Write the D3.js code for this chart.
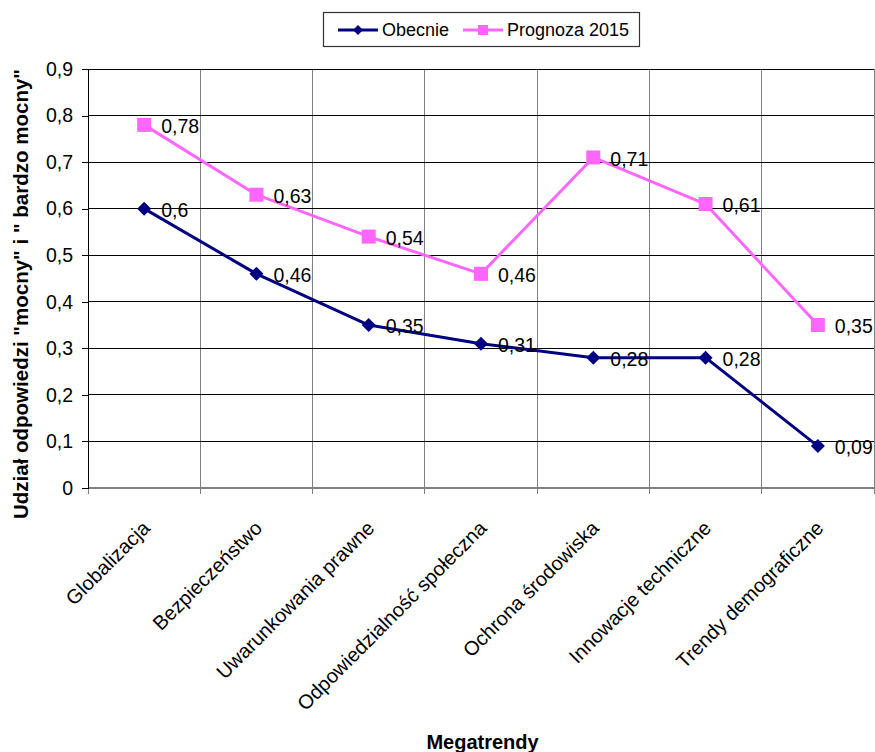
<!DOCTYPE html>
<html>
<head>
<meta charset="utf-8">
<script src="https://cdn.jsdelivr.net/npm/d3@7"></script>
<style>
  html, body { margin: 0; padding: 0; background: #fff; }
  svg { display: block; font-family: Arial, "Liberation Sans", sans-serif; }
</style>
</head>
<body>
<svg id="chart" width="875" height="752"></svg>
<script>
// Megatrend categories and shares of "strong" / "very strong" answers
const categories = [
  "Globalizacja",
  "Bezpieczeństwo",
  "Uwarunkowania prawne",
  "Odpowiedzialność społeczna",
  "Ochrona środowiska",
  "Innowacje techniczne",
  "Trendy demograficzne"
];
const obecnie = [0.6, 0.46, 0.35, 0.31, 0.28, 0.28, 0.09];
const prognoza2015 = [0.78, 0.63, 0.54, 0.46, 0.71, 0.61, 0.35];
const yTicks = [0, 0.1, 0.2, 0.3, 0.4, 0.5, 0.6, 0.7, 0.8, 0.9];
const seriesNames = ["Obecnie", "Prognoza 2015"];

const svg = d3.select("#chart");
const margin = { left: 88, right: 1, top: 69, bottom: 264 };
const W = 875, H = 752;

const x = d3.scaleBand().domain(categories).range([margin.left, W - margin.right]).padding(0);
const y = d3.scaleLinear().domain([0, 0.9]).range([H - margin.bottom, margin.top]);
const fmt = v => String(v).replace(".", ",");

const navy = "#000080", pink = "#ff66ff";

// vertical gridlines at category boundaries
const bounds = categories.map(c => x(c)).concat([x.range()[1]]);
svg.append("g").selectAll("line").data(bounds).join("line")
  .attr("x1", d => d).attr("x2", d => d)
  .attr("y1", y(0.9)).attr("y2", y(0) + 6)
  .attr("stroke", "#808080").attr("stroke-width", 1).attr("shape-rendering", "crispEdges");

// horizontal gridlines
svg.append("g").selectAll("line").data(yTicks).join("line")
  .attr("x1", margin.left).attr("x2", x.range()[1])
  .attr("y1", d => y(d)).attr("y2", d => y(d))
  .attr("stroke", "#000").attr("stroke-width", 1).attr("shape-rendering", "crispEdges");

// x axis line
svg.append("line")
  .attr("x1", margin.left).attr("x2", x.range()[1])
  .attr("y1", y(0)).attr("y2", y(0))
  .attr("stroke", "#808080").attr("stroke-width", 2);

// y axis
const yAxis = d3.axisLeft(y).tickValues(yTicks).tickFormat(fmt).tickSize(6).tickPadding(9);
const gy = svg.append("g").attr("transform", `translate(${margin.left},0)`).call(yAxis);
gy.select(".domain").attr("stroke", "#000").attr("shape-rendering", "crispEdges");
gy.selectAll(".tick line").attr("stroke", "#000").attr("shape-rendering", "crispEdges");
gy.selectAll(".tick text").attr("font-size", 19.5).attr("fill", "#000")
  .attr("font-family", "Arial, 'Liberation Sans', sans-serif");

// category labels, rotated
svg.append("g").selectAll("text").data(categories).join("text")
  .attr("transform", d => `translate(${x(d) + x.bandwidth() / 2 - 0.5},${y(0) + 34}) rotate(-45)`)
  .attr("text-anchor", "end")
  .attr("dy", "0.52em")
  .attr("font-size", 20)
  .attr("fill", "#000")
  .text(d => d);

// series lines and markers
const line = d3.line().x((d, i) => x(categories[i]) + x.bandwidth() / 2).y(d => y(d));
function drawSeries(vals, color, shape) {
  svg.append("path").datum(vals).attr("d", line)
    .attr("fill", "none").attr("stroke", color).attr("stroke-width", 3)
    .attr("stroke-linejoin", "round");
  const g = svg.append("g");
  vals.forEach((v, i) => {
    const cx = x(categories[i]) + x.bandwidth() / 2, cy = y(v);
    if (shape === "diamond") {
      g.append("path").attr("d", `M${cx},${cy - 7}L${cx + 7},${cy}L${cx},${cy + 7}L${cx - 7},${cy}Z`)
        .attr("fill", color);
    } else {
      g.append("rect").attr("x", cx - 7).attr("y", cy - 7).attr("width", 14).attr("height", 14)
        .attr("fill", color);
    }
    g.append("text").attr("x", cx + 17).attr("y", cy + 1.5).attr("dy", "0.35em")
      .attr("font-size", 19.5).attr("fill", "#000").text(fmt(v));
  });
}
drawSeries(obecnie, navy, "diamond");
drawSeries(prognoza2015, pink, "square");

// axis titles
svg.append("text")
  .attr("transform", `translate(28,294) rotate(-90)`)
  .attr("text-anchor", "middle")
  .attr("font-size", 20.5).attr("font-weight", "bold").attr("fill", "#000")
  .text("Udział odpowiedzi \"mocny\" i \" bardzo mocny\"");

svg.append("text")
  .attr("x", 482.5).attr("y", 749)
  .attr("text-anchor", "middle")
  .attr("font-size", 20).attr("font-weight", "bold").attr("fill", "#000")
  .text("Megatrendy");

// legend
const lg = svg.append("g");
lg.append("rect").attr("x", 323.5).attr("y", 12.5).attr("width", 316).attr("height", 34)
  .attr("fill", "#fff").attr("stroke", "#333").attr("stroke-width", 1.2);
const legendItems = [
  { name: seriesNames[0], color: navy, shape: "diamond", x0: 338, tx: 382 },
  { name: seriesNames[1], color: pink, shape: "square", x0: 463, tx: 507 }
];
legendItems.forEach(it => {
  const ly = 30;
  lg.append("line").attr("x1", it.x0).attr("x2", it.x0 + 40).attr("y1", ly).attr("y2", ly)
    .attr("stroke", it.color).attr("stroke-width", 3);
  const mx = it.x0 + 20;
  if (it.shape === "diamond") {
    lg.append("path").attr("d", `M${mx},${ly - 5}L${mx + 5},${ly}L${mx},${ly + 5}L${mx - 5},${ly}Z`).attr("fill", it.color);
  } else {
    lg.append("rect").attr("x", mx - 5).attr("y", ly - 5).attr("width", 10).attr("height", 10).attr("fill", it.color);
  }
  lg.append("text").attr("x", it.tx).attr("y", ly).attr("dy", "0.35em")
    .attr("font-size", 18).attr("fill", "#000").text(it.name);
});
</script>
</body>
</html>
